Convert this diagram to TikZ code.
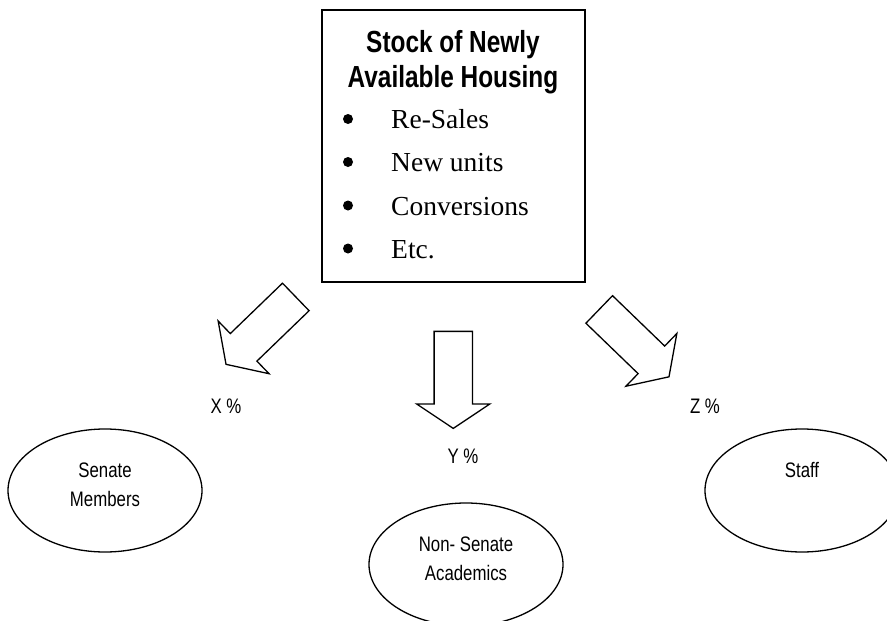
\documentclass[tikz,border=0pt]{standalone}
\usepackage{fontspec}
\usepackage{tikz}
\usetikzlibrary{shapes.geometric,shapes.arrows}
\newfontfamily\condfont[FakeStretch=0.8]{Liberation Sans}
\newfontfamily\itemfont{Liberation Serif}
\newcommand\sharelen{97pt}
\newcommand\padbelow{\rule[-12pt]{0pt}{0pt}}
\tikzstyle{stockbox}=[draw,line width=2pt,minimum width=263pt,minimum height=272pt,inner sep=0pt]
\tikzstyle{headline}=[font=\condfont\bfseries\fontsize{30.5}{35.5}\selectfont,align=center,inner sep=0pt]
\tikzstyle{itemtext}=[font=\itemfont\fontsize{27.5}{30}\selectfont,anchor=base west,inner sep=0pt]
\tikzstyle{dot}=[circle,fill=black,minimum size=10pt,inner sep=0pt]
\tikzstyle{share}=[single arrow,draw,line width=1.3pt,
  minimum height=\sharelen,inner xsep=0pt,inner ysep=18.5pt,
  single arrow head extend=17.5pt,single arrow tip angle=112.6]
\tikzstyle{pct}=[font=\condfont\fontsize{21}{29}\selectfont,inner sep=0pt]
\tikzstyle{group}=[ellipse,draw,line width=1.3pt,minimum width=194pt,minimum height=123pt,
  inner sep=0pt,align=center,font=\condfont\fontsize{21}{29}\selectfont]

\begin{document}
\begin{tikzpicture}[x=1pt,y=-1pt]
\useasboundingbox (0,0) rectangle (887,621);
\clip (0,0) rectangle (887,621);
\node[stockbox] (stock) at (453.5,146) {};
\node[headline] (head) at (453,62) {Stock of Newly\\Available Housing};
\foreach \n/\txt/\y in {1/Re-Sales/128.5,2/New units/171.5,3/Conversions/215,4/Etc./258}{
  \node[dot] (dot\n) at (348,\y-9.5) {};
  \node[itemtext] (item\n) at (391,\y) {\txt};
}
% the three shares
\node[share,rotate=224] (toSenate) at (265.5,326.2) {};
\node[share,rotate=270] (toAcad) at (453.25,373.5) {};
\node[share,rotate=-44] (toStaff) at (629.5,338.7) {};
\node[pct] (xpct) at (226,406) {X \%};
\node[pct] (ypct) at (463,456) {Y \%};
\node[pct] (zpct) at (705,406) {Z \%};
\node[group] (senate) at (105,490.5) {Senate\\Members\padbelow};
\node[group] (acad) at (466,564.5) {Non- Senate\\Academics\padbelow};
\node[group] (staff) at (802,490.5) {Staff\\\phantom{M}\padbelow};
\end{tikzpicture}
\end{document}
